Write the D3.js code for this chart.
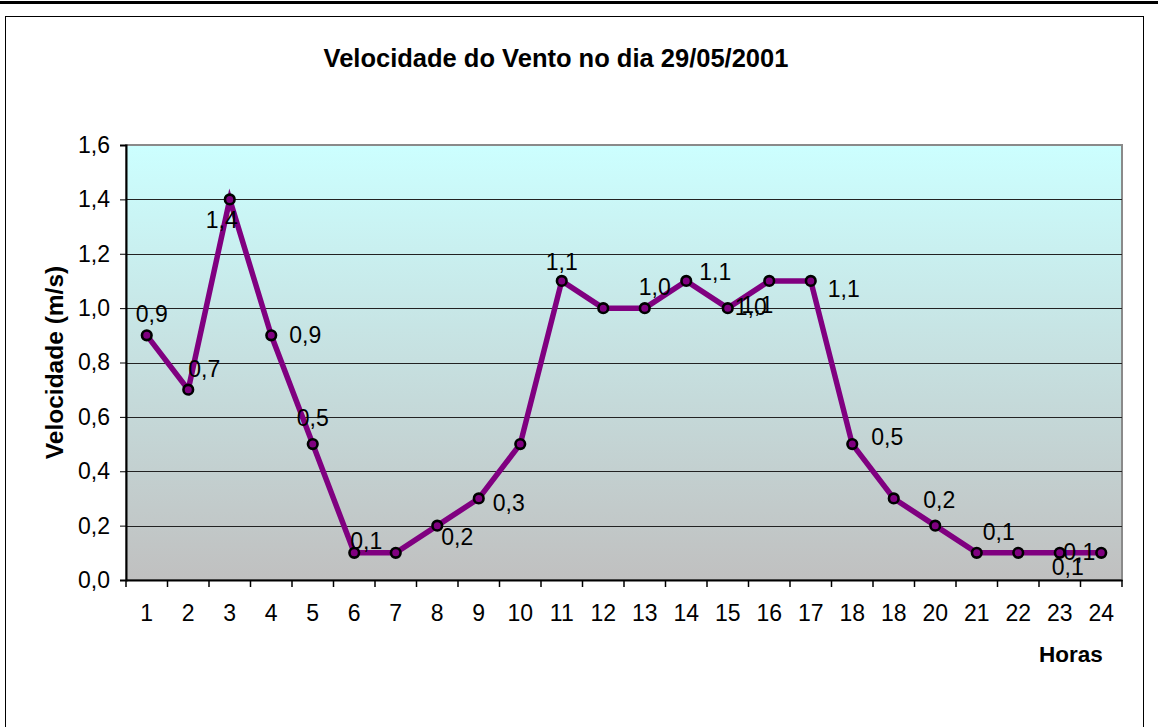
<!DOCTYPE html>
<html>
<head>
<meta charset="utf-8">
<script src="https://cdn.jsdelivr.net/npm/d3@7/dist/d3.min.js"></script>
<style>
  html, body { margin: 0; padding: 0; background: #fff; }
  svg { display: block; font-family: "Liberation Sans", Arial, sans-serif; }
</style>
</head>
<body>
<svg id="chart" width="1162" height="727"></svg>
<script>
// Hourly wind speed readings (m/s)
const hours = ["1","2","3","4","5","6","7","8","9","10","11","12","13","14","15","16","17","18","18","20","21","22","23","24"];
const speeds = [0.9, 0.7, 1.4, 0.9, 0.5, 0.1, 0.1, 0.2, 0.3, 0.5, 1.1, 1.0, 1.0, 1.1, 1.0, 1.1, 1.1, 0.5, 0.3, 0.2, 0.1, 0.1, 0.1, 0.1];
const yTicks = [0, 0.2, 0.4, 0.6, 0.8, 1.0, 1.2, 1.4, 1.6];

// Which points carry a value label, and where the label sits relative to its point (px)
const labelOffsets = [
  [5, -21], [16, -21], [-8, 21], [34, 0], [0, -26], [12, -12], null, [20, 11],
  [30, 5], null, [0, -19], null, [10, -21], [29, -9], [23, -1], [-12, 24],
  [33, 8], [35, -7], null, [4, -26], [22, -21], null, [8, 14], [-22, -1]
];

const title = "Velocidade do Vento no dia 29/05/2001";
const yTitle = "Velocidade (m/s)";
const xTitle = "Horas";

const fmt = v => d3.format(".1f")(v).replace(".", ",");
const FONT = "Liberation Sans, Arial, sans-serif";

const svg = d3.select("#chart");
const plot = { left: 126, top: 145, right: 1122, bottom: 580 };

// Page rule and chart frame
svg.append("rect").attr("x", 0).attr("y", 1).attr("width", 1158).attr("height", 3).attr("fill", "#000");
svg.append("rect").attr("x", 5.5).attr("y", 16.5).attr("width", 1138).attr("height", 760)
  .attr("fill", "#fff").attr("stroke", "#000").attr("stroke-width", 1);

const x = d3.scaleBand().domain(d3.range(hours.length)).range([plot.left, plot.right]);
const y = d3.scaleLinear().domain([0, 1.6]).range([plot.bottom, plot.top]);

// Plot area background gradient
const defs = svg.append("defs");
const grad = defs.append("linearGradient").attr("id", "bg").attr("x1", 0).attr("y1", 0).attr("x2", 0).attr("y2", 1);
grad.append("stop").attr("offset", "0%").attr("stop-color", "#CCFFFF");
grad.append("stop").attr("offset", "100%").attr("stop-color", "#C0C0C0");

svg.append("rect")
  .attr("x", plot.left).attr("y", plot.top)
  .attr("width", plot.right - plot.left).attr("height", plot.bottom - plot.top)
  .attr("fill", "url(#bg)").attr("stroke", "#8a8a8a").attr("stroke-width", 2);

// Horizontal gridlines
svg.append("g").selectAll("line").data(yTicks.slice(1, -1)).join("line")
  .attr("x1", plot.left).attr("x2", plot.right)
  .attr("y1", d => Math.round(y(d)) + 0.5).attr("y2", d => Math.round(y(d)) + 0.5)
  .attr("stroke", "#222").attr("stroke-width", 1);

// Y axis
const yAxis = svg.append("g").attr("transform", `translate(${plot.left},0)`)
  .call(d3.axisLeft(y).tickValues(yTicks).tickFormat(fmt).tickSize(6).tickPadding(10));
yAxis.select(".domain").attr("stroke", "#000").attr("stroke-width", 2);
yAxis.selectAll(".tick line").attr("stroke", "#000");
yAxis.selectAll("text").attr("font-size", 23).attr("fill", "#000").attr("font-family", FONT);

// X axis with ticks at category boundaries
const xAxis = svg.append("g").attr("transform", `translate(0,${plot.bottom})`)
  .call(d3.axisBottom(x).tickFormat(i => hours[i]).tickSize(0).tickPadding(25));
xAxis.select(".domain").attr("stroke", "#000").attr("stroke-width", 2);
xAxis.selectAll("text").attr("font-size", 23).attr("fill", "#000").attr("font-family", FONT);
xAxis.append("g").selectAll("line").data(d3.range(hours.length + 1)).join("line")
  .attr("x1", i => i < hours.length ? x(i) : plot.right)
  .attr("x2", i => i < hours.length ? x(i) : plot.right)
  .attr("y1", 0).attr("y2", 7).attr("stroke", "#000").attr("stroke-width", 1.5);

const cx = i => x(i) + x.bandwidth() / 2;

// Wind speed line
svg.append("path").datum(speeds)
  .attr("d", d3.line().x((d, i) => cx(i)).y(d => y(d)))
  .attr("fill", "none").attr("stroke", "#800080").attr("stroke-width", 5.5)
  .attr("stroke-linejoin", "miter");

// Markers
svg.append("g").selectAll("circle").data(speeds).join("circle")
  .attr("cx", (d, i) => cx(i)).attr("cy", d => y(d)).attr("r", 4.8)
  .attr("fill", "#800080").attr("stroke", "#000").attr("stroke-width", 2.6);

// Value labels
svg.append("g").selectAll("text")
  .data(speeds.map((v, i) => ({ v, i, off: labelOffsets[i] })).filter(d => d.off))
  .join("text")
  .attr("x", d => cx(d.i) + d.off[0])
  .attr("y", d => y(d.v) + d.off[1] + 8)
  .attr("text-anchor", "middle")
  .attr("font-size", 23).attr("fill", "#000")
  .text(d => fmt(d.v));

// Titles
svg.append("text").attr("x", 556).attr("y", 67).attr("text-anchor", "middle")
  .attr("font-size", 25.5).attr("font-weight", "bold").text(title);
svg.append("text").attr("transform", `translate(63,${(plot.top + plot.bottom) / 2}) rotate(-90)`)
  .attr("text-anchor", "middle").attr("font-size", 24.5).attr("font-weight", "bold").text(yTitle);
svg.append("text").attr("x", 1071).attr("y", 662).attr("text-anchor", "middle")
  .attr("font-size", 22.5).attr("font-weight", "bold").text(xTitle);
</script>
</body>
</html>
